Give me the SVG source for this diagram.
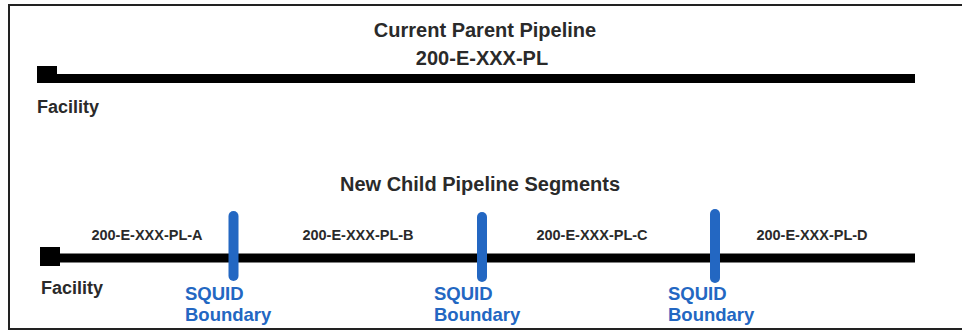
<svg xmlns="http://www.w3.org/2000/svg" width="962" height="332" viewBox="0 0 962 332">
<style>
.t{font-family:"Liberation Sans",Arial,sans-serif;font-weight:bold;fill:#2a2a2a}
.title{font-size:20px;text-anchor:middle}
.seg{font-size:14.5px;text-anchor:middle}
.fac{font-size:18px}
.sq{font-family:"Liberation Sans",Arial,sans-serif;font-weight:bold;fill:#2367c2;font-size:18.5px}
.pipe{stroke:#000;stroke-width:9;fill:none}
.bnd{stroke:#2367c2;stroke-width:10;stroke-linecap:round;fill:none}
</style>
<rect x="0" y="0" width="962" height="332" fill="#fff"/>
<rect x="9" y="5" width="960" height="324" fill="none" stroke="#222" stroke-width="2"/>
<g id="parent-title">
<text class="t title" x="485" y="37">Current Parent Pipeline</text>
<text class="t title" x="482" y="65">200-E-XXX-PL</text>
</g>
<g id="child-title">
<text class="t title" x="480" y="191">New Child Pipeline Segments</text>
</g>
<g id="connectors">
<line class="pipe" x1="57" y1="78.5" x2="915" y2="78.5"/>
<line class="pipe" x1="60" y1="258" x2="915" y2="258"/>
</g>
<g id="facility-top">
<rect x="37" y="66" width="20" height="17" fill="#000"/>
<text class="t fac" x="37" y="113">Facility</text>
</g>
<g id="facility-bottom">
<rect x="40" y="247" width="20" height="19" fill="#000"/>
<text class="t fac" x="41" y="294">Facility</text>
</g>
<g id="segment-a"><text class="t seg" x="147" y="240">200-E-XXX-PL-A</text></g>
<g id="segment-b"><text class="t seg" x="358" y="240">200-E-XXX-PL-B</text></g>
<g id="segment-c"><text class="t seg" x="592" y="240">200-E-XXX-PL-C</text></g>
<g id="segment-d"><text class="t seg" x="812" y="240">200-E-XXX-PL-D</text></g>
<g id="boundary-1">
<line class="bnd" x1="233.5" y1="216" x2="233.5" y2="276"/>
<text class="sq" x="185" y="300">SQUID</text>
<text class="sq" x="185" y="321">Boundary</text>
</g>
<g id="boundary-2">
<line class="bnd" x1="482" y1="217" x2="482" y2="277"/>
<text class="sq" x="434" y="300">SQUID</text>
<text class="sq" x="434" y="321">Boundary</text>
</g>
<g id="boundary-3">
<line class="bnd" x1="715" y1="214" x2="715" y2="278"/>
<text class="sq" x="668" y="300">SQUID</text>
<text class="sq" x="668" y="321">Boundary</text>
</g>
</svg>
